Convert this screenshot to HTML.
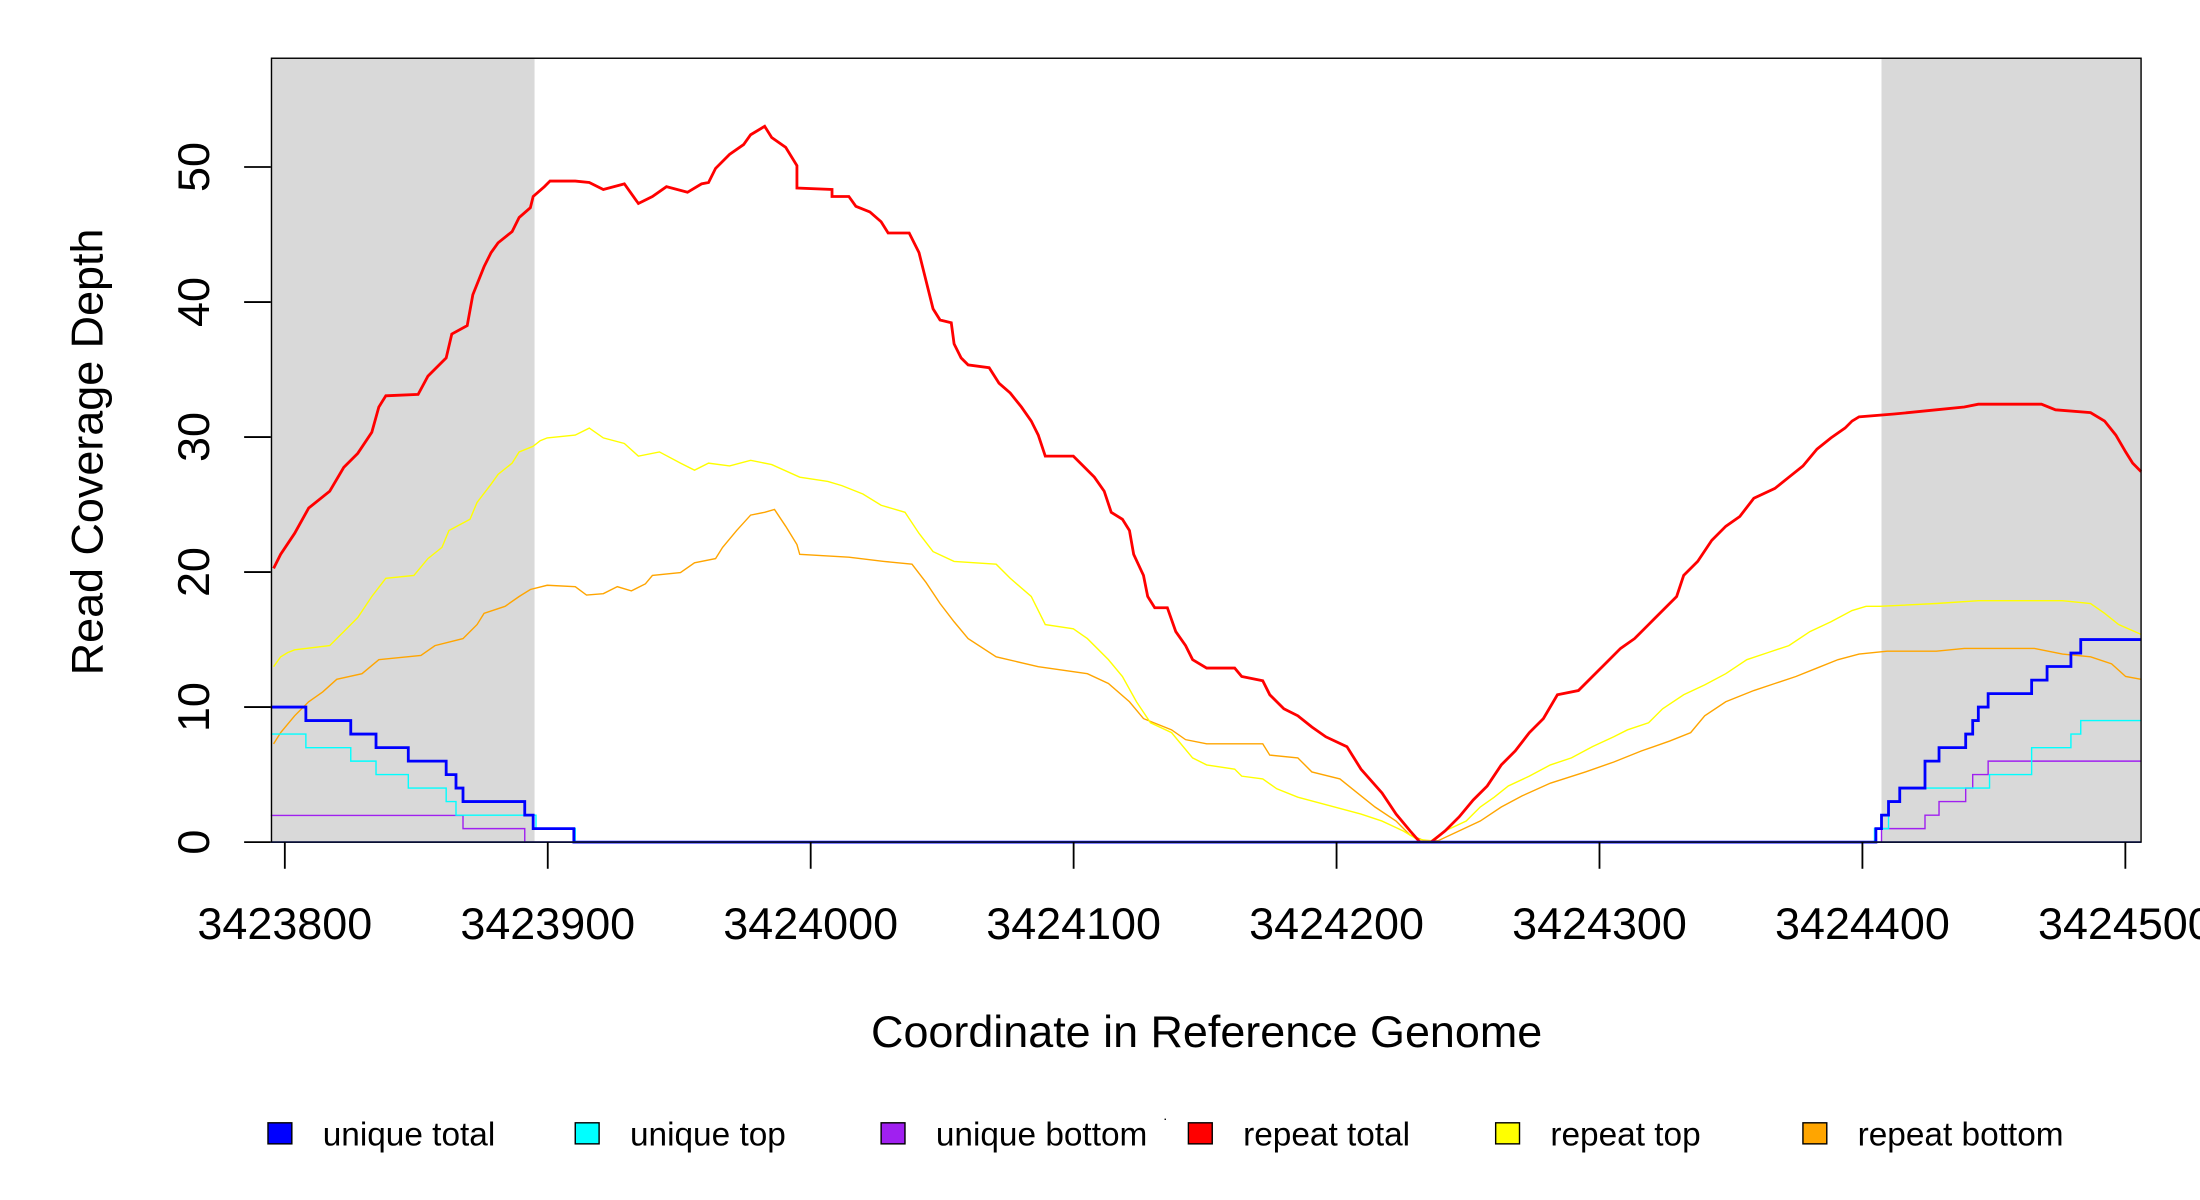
<!DOCTYPE html>
<html><head><meta charset="utf-8"><style>
html,body{margin:0;padding:0;background:#fff;}
svg{display:block;font-family:"Liberation Sans",Arial,sans-serif;}
</style></head><body>
<svg width="2200" height="1200" viewBox="0 0 1568 855" preserveAspectRatio="none" xmlns="http://www.w3.org/2000/svg">
<rect x="0" y="0" width="1568" height="855" fill="#fff"/>
<rect x="193" y="41" width="188" height="559" fill="#d9d9d9"/>
<rect x="1341" y="41" width="185" height="559" fill="#d9d9d9"/>

<g fill="none" stroke-linejoin="miter">
<polyline stroke="#FFA500" stroke-width="1" points="195,530 200,522 210,510 220,500 230,493 240,484 258,480 270,470 300,467 310,460 330,455 340,445 345,437 360,432 370,425 378,420 390,417 410,418 418,424 430,423 440,418 450,421 460,416 465,410 485,408 495,401 510,398 515,390 525,378 535,367 545,365 552,363 560,375 568,388 570,395 605,397 630,400 650,402 660,415 670,430 680,443 690,455 710,468 740,475 775,480 790,487 805,500 815,512 835,520 845,527 860,530 900,530 905,538 925,540 935,550 955,555 965,563 980,575 995,585 1005,595 1015,599 1025,599 1040,592 1055,585 1070,575 1085,567 1105,558 1130,550 1150,543 1170,535 1190,528 1205,522 1215,510 1230,500 1250,492 1265,487 1280,482 1295,476 1310,470 1325,466 1345,464 1380,464 1400,462 1450,462 1470,466 1490,468 1505,473 1515,482 1526,484"/>
<polyline stroke="#FFFF00" stroke-width="1" points="195,475 200,468 205,465 210,463 235,460 245,450 255,440 265,425 275,412 295,410 305,398 315,390 320,378 335,370 340,358 350,345 355,338 365,330 370,322 380,318 385,314 390,312 410,310 420,305 430,312 445,316 455,325 470,322 485,330 495,335 505,330 520,332 535,328 550,331 570,340 590,343 600,346 615,352 628,360 645,365 655,380 665,393 680,400 710,402 720,412 735,425 745,445 765,448 775,455 790,470 800,482 810,500 820,515 835,522 850,540 860,545 880,548 885,553 900,555 910,562 925,568 940,572 955,576 970,580 985,585 1000,592 1010,598 1020,599 1030,592 1045,585 1055,575 1065,568 1075,560 1090,553 1105,545 1120,540 1135,532 1150,525 1160,520 1175,515 1185,505 1200,495 1215,488 1230,480 1245,470 1260,465 1275,460 1290,450 1305,443 1320,435 1330,432 1340,432 1380,430 1410,428 1470,428 1490,430 1500,437 1510,445 1526,452"/>
<polyline stroke="#FF0000" stroke-width="2" points="195,405 200,395 210,380 220,362 235,350 245,333 255,323 265,308 270,290 275,282 298,281 305,268 318,255 322,238 333,232 337,210 345,190 350,180 355,173 365,165 370,155 378,148 380,140 388,133 392,129 410,129 420,130 430,135 445,131 455,145 465,140 475,133 490,137 500,131 505,130 510,120 520,110 530,103 535,96 545,90 550,98 560,105 568,118 568,134 593,135 593,140 605,140 610,147 620,151 628,158 633,166 648,166 655,180 660,200 665,220 670,228 678,230 680,245 685,255 690,260 705,262 712,273 720,280 728,290 735,300 740,310 745,325 765,325 770,330 780,340 787,350 792,365 800,370 805,378 808,395 815,410 818,425 823,433 832,433 838,450 845,460 850,470 860,476 880,476 885,482 900,485 905,495 915,505 925,510 935,518 945,525 960,532 970,548 985,565 995,580 1005,592 1012,600 1020,600 1030,592 1040,582 1050,570 1060,560 1070,545 1080,535 1090,522 1100,512 1110,495 1125,492 1135,482 1145,472 1155,462 1165,455 1175,445 1185,435 1195,425 1200,410 1210,400 1220,385 1230,375 1240,368 1250,355 1265,348 1275,340 1285,332 1295,320 1305,312 1315,305 1320,300 1325,297 1350,295 1380,292 1400,290 1410,288 1455,288 1465,292 1490,294 1500,300 1508,310 1515,322 1520,330 1526,336"/>
<path stroke="#A020F0" stroke-width="1" d="M193,581 H330 V590.4 H374 V600 H1341 V590.4 H1372 V580.8 H1382 V571.1 H1401 V561.5 H1406 V551.9 H1417 V542.3 H1526"/>
<path stroke="#00FFFF" stroke-width="1" d="M193,523 H218 V532.7 H250 V542.3 H268 V551.9 H291 V561.5 H318 V571.1 H325 V580.8 H382 V590.4 H410 V600 H1336 V590.4 H1346 V571.1 H1354 V561.5 H1418 V551.9 H1448 V532.7 H1476 V523 H1483 V513.4 H1526"/>
<path stroke="#0000FF" stroke-width="2" d="M193,503.8 H218 V513.4 H250 V523 H268 V532.7 H291 V542.3 H318 V551.9 H325 V561.5 H330 V571.1 H374 V580.8 H380 V590.4 H409 V600 H1337 V590.4 H1341 V580.8 H1346 V571.1 H1354 V561.5 H1372 V542.3 H1382 V532.7 H1401 V523 H1406 V513.4 H1410 V503.8 H1417 V494.2 H1448 V484.6 H1459 V474.9 H1476 V465.3 H1483 V455.7 H1526"/>
<line x1="193" y1="600" x2="1526" y2="600" stroke="#3355ff" stroke-width="1.2"/>
</g>

<rect x="193.5" y="41.5" width="1332.5" height="558.5" fill="none" stroke="#000" stroke-width="1"/>

<g stroke="#000" stroke-width="1.3">
<line x1="174" y1="600" x2="193" y2="600"/>
<line x1="174" y1="503.8" x2="193" y2="503.8"/>
<line x1="174" y1="407.6" x2="193" y2="407.6"/>
<line x1="174" y1="311.4" x2="193" y2="311.4"/>
<line x1="174" y1="215.2" x2="193" y2="215.2"/>
<line x1="174" y1="119" x2="193" y2="119"/>
<line x1="203" y1="600" x2="203" y2="619"/>
<line x1="390.4" y1="600" x2="390.4" y2="619"/>
<line x1="577.8" y1="600" x2="577.8" y2="619"/>
<line x1="765.2" y1="600" x2="765.2" y2="619"/>
<line x1="952.6" y1="600" x2="952.6" y2="619"/>
<line x1="1140" y1="600" x2="1140" y2="619"/>
<line x1="1327.4" y1="600" x2="1327.4" y2="619"/>
<line x1="1514.8" y1="600" x2="1514.8" y2="619"/>
</g>

<g font-size="32" fill="#000" text-anchor="middle">
<text transform="translate(149,600) rotate(-90)">0</text>
<text transform="translate(149,503.8) rotate(-90)">10</text>
<text transform="translate(149,407.6) rotate(-90)">20</text>
<text transform="translate(149,311.4) rotate(-90)">30</text>
<text transform="translate(149,215.2) rotate(-90)">40</text>
<text transform="translate(149,119) rotate(-90)">50</text>
<text x="203" y="669">3423800</text>
<text x="390.4" y="669">3423900</text>
<text x="577.8" y="669">3424000</text>
<text x="765.2" y="669">3424100</text>
<text x="952.6" y="669">3424200</text>
<text x="1140" y="669">3424300</text>
<text x="1327.4" y="669">3424400</text>
<text x="1514.8" y="669">3424500</text>
<text x="860" y="746">Coordinate in Reference Genome</text>
<text transform="translate(73,322) rotate(-90)">Read Coverage Depth</text>
</g>

<g stroke="#000" stroke-width="1">
<rect x="191" y="800" width="17" height="15" fill="#0000FF"/>
<rect x="410" y="800" width="17" height="15" fill="#00FFFF"/>
<rect x="628" y="800" width="17" height="15" fill="#A020F0"/>
<rect x="847" y="800" width="17" height="15" fill="#FF0000"/>
<rect x="1066" y="800" width="17" height="15" fill="#FFFF00"/>
<rect x="1285" y="800" width="17" height="15" fill="#FFA500"/>
</g>
<g font-size="23.8" fill="#000">
<text x="230" y="816">unique total</text>
<text x="449" y="816">unique top</text>
<text x="667" y="816">unique bottom</text>
<text x="886" y="816">repeat total</text>
<text x="1105" y="816">repeat top</text>
<text x="1324" y="816">repeat bottom</text>
<rect x="830" y="797" width="1" height="1" fill="#000"/>
</g>
</svg>
</body></html>
